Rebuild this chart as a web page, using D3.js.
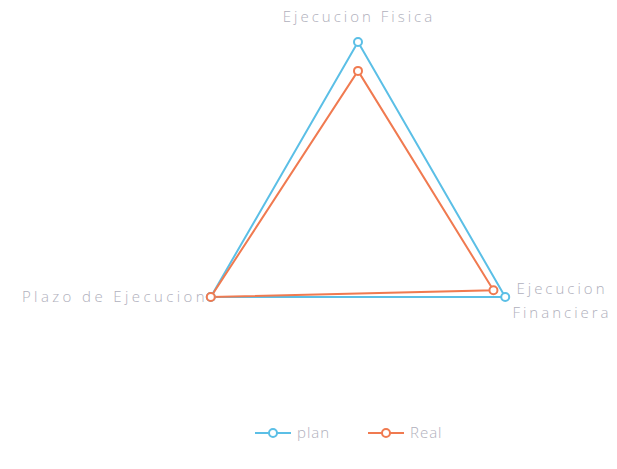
<!DOCTYPE html>
<html lang="en">
<head>
	<meta charset="UTF-8" />
	<script src="https://d3js.org/d3.v7.min.js"></script>
	<style>
		body { margin: 0; background: #fff; }
		text { font-family: "Open Sans", sans-serif; font-weight: 300; letter-spacing: 3px; }
		.legend text { letter-spacing: 1px; }
	</style>
</head>
<body>
	<svg width="617" height="469"></svg>
	<script>
	// chart data
	var axes = ["Ejecucion Fisica", "Ejecucion Financiera", "Plazo de Ejecucion"];
	var planValues = [100, 100, 100];
	var realValues = [83, 92, 100];
	var seriesNames = ["plan", "Real"];
	var seriesColors = ["#5bbfe6", "#f07a50"];

	var svg = d3.select("svg");
	var cx = 358, cy = 212;

	var r = d3.scaleLinear().domain([0, 100]).range([0, 170]);
	var angle = d3.scaleLinear().domain([0, axes.length]).range([0, 2 * Math.PI]);

	var line = d3.lineRadial()
		.angle(function(d, i) { return angle(i); })
		.radius(function(d) { return r(d); })
		.curve(d3.curveLinearClosed);

	var g = svg.append("g").attr("transform", "translate(" + cx + "," + cy + ")");

	var series = [planValues, realValues];
	series.forEach(function(vals, s) {
		g.append("path")
			.attr("d", line(vals))
			.attr("fill", "none")
			.attr("stroke", seriesColors[s])
			.attr("stroke-width", 2);
	});
	series.forEach(function(vals, s) {
		g.selectAll(".pt" + s)
			.data(vals)
			.enter()
			.append("circle")
			.attr("cx", function(d, i) { return r(d) * Math.sin(angle(i)); })
			.attr("cy", function(d, i) { return -r(d) * Math.cos(angle(i)); })
			.attr("r", 4)
			.attr("fill", "#fff")
			.attr("stroke", seriesColors[s])
			.attr("stroke-width", 2);
	});

	// axis labels
	var labels = [
		{ lines: ["Ejecucion Fisica"], dx: 1, dy: -190, anchor: "middle" },
		{ lines: ["Ejecucion", "Financiera"], dx: 204, dy: 82, anchor: "middle" },
		{ lines: ["Plazo de Ejecucion"], dx: -150, dy: 90, anchor: "end" }
	];
	labels.forEach(function(l, i) {
		var t = g.append("text")
			.attr("x", l.dx)
			.attr("y", l.dy)
			.attr("text-anchor", l.anchor)
			.attr("fill", "#b0b0bc")
			.attr("font-size", 15)
			.style("letter-spacing", i == 2 ? "3.4px" : null);
		l.lines.forEach(function(s, k) {
			t.append("tspan").attr("x", l.dx).attr("dy", k ? 24 : 0).text(s);
		});
	});

	// legend
	var legendX = [255, 368];
	var leg = svg.append("g").attr("class", "legend").attr("transform", "translate(0,433)");
	seriesNames.forEach(function(name, i) {
		var x = legendX[i];
		leg.append("line")
			.attr("x1", x).attr("x2", x + 36)
			.attr("y1", 0).attr("y2", 0)
			.attr("stroke", seriesColors[i]).attr("stroke-width", 2);
		leg.append("circle")
			.attr("cx", x + 18).attr("cy", 0).attr("r", 4)
			.attr("fill", "#fff").attr("stroke", seriesColors[i]).attr("stroke-width", 2);
		leg.append("text")
			.attr("x", x + 42).attr("y", 5)
			.attr("fill", "#b0b0bc")
			.attr("font-size", 15)
			.text(name);
	});
	</script>
</body>
</html>
